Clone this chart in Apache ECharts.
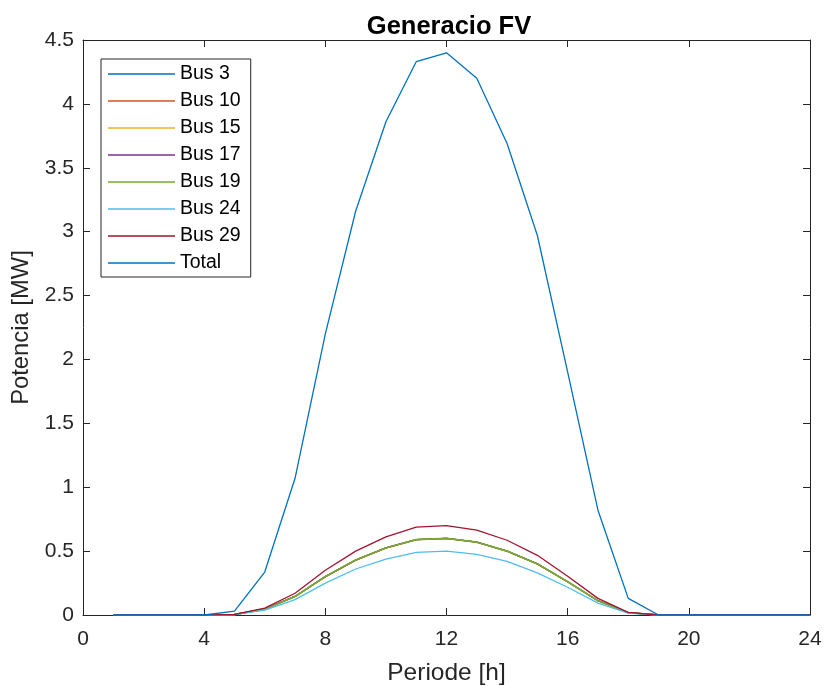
<!DOCTYPE html>
<html>
<head>
<meta charset="utf-8">
<script src="https://cdn.jsdelivr.net/npm/echarts@6/dist/echarts.min.js"></script>
<style>html,body{margin:0;padding:0;background:#fff;}#c{width:825px;height:686px;}</style>
</head>
<body>
<div id="c"></div>
<script>
const hours = [1,2,3,4,5,6,7,8,9,10,11,12,13,14,15,16,17,18,19,20,21,22,23,24];
const bus3  = [0,0,0,0,0.004,0.046,0.145,0.30,0.43,0.525,0.59,0.60,0.57,0.50,0.40,0.26,0.112,0.018,0,0,0,0,0,0];
const bus10 = [0,0,0,0,0.004,0.046,0.145,0.30,0.43,0.525,0.59,0.60,0.57,0.50,0.40,0.26,0.112,0.018,0,0,0,0,0,0];
const bus15 = [0,0,0,0,0.004,0.046,0.145,0.30,0.43,0.525,0.59,0.60,0.57,0.50,0.40,0.26,0.112,0.018,0,0,0,0,0,0];
const bus17 = [0,0,0,0,0.004,0.046,0.145,0.30,0.43,0.525,0.59,0.60,0.57,0.50,0.40,0.26,0.112,0.018,0,0,0,0,0,0];
const bus19 = [0,0,0,0,0.004,0.046,0.145,0.30,0.43,0.525,0.59,0.60,0.57,0.50,0.40,0.26,0.112,0.018,0,0,0,0,0,0];
const bus24 = [0,0,0,0,0.003,0.038,0.12,0.25,0.36,0.437,0.49,0.50,0.475,0.42,0.33,0.217,0.093,0.015,0,0,0,0,0,0];
const bus29 = [0,0,0,0,0.005,0.054,0.17,0.35,0.50,0.612,0.688,0.70,0.665,0.585,0.467,0.303,0.13,0.021,0,0,0,0,0,0];
const total = [0,0,0,0,0.03,0.336,1.07,2.2,3.16,3.86,4.33,4.40,4.20,3.69,2.97,1.90,0.82,0.13,0,0,0,0,0,0];
const names = ['Bus 3','Bus 10','Bus 15','Bus 17','Bus 19','Bus 24','Bus 29','Total'];
const values = [bus3,bus10,bus15,bus17,bus19,bus24,bus29,total];
const colors = ['#0072BD','#D95319','#EDB120','#7E2F8E','#77AC30','#4DBEEE','#A2142F','#0072BD'];

const font = 'Liberation Sans, Arial, Helvetica, sans-serif';
const axisCol = '#262626';
const chart = echarts.init(document.getElementById('c'), null, {renderer:'canvas'});
const series = names.map((n,i)=>({
  name:n, type:'line', xAxisIndex:0, yAxisIndex:0,
  data: hours.map((h,j)=>[h, values[i][j]]),
  showSymbol:false, symbol:'none', silent:true,
  lineStyle:{color:colors[i], width: i===4 ? 1.6 : 1.3},
  itemStyle:{color:colors[i]},
  z: 2+i
}));
function ax(extra){
  return Object.assign({
    axisLine:{show:true, onZero:false, lineStyle:{color:axisCol, width:1}},
    axisTick:{show:true, inside:true, length:7, lineStyle:{color:axisCol}},
    splitLine:{show:false}
  }, extra);
}
chart.setOption({
  animation:false,
  title:{text:'Generacio FV', left:444, top:9, textAlign:'center',
    textStyle:{fontFamily:font, fontSize:25.5, fontWeight:'bold', color:'#000'}},
  grid:{left:83, right:15, top:40, bottom:71, show:false, outerBoundsMode:'none', containLabel:false},
  legend:{
    orient:'vertical', left:101, top:59, data:names,
    icon:'rect', itemWidth:67, itemHeight:1.4, itemGap:7,
    padding:[5,10,4,7],
    borderColor:'#262626', borderWidth:1, backgroundColor:'#fff',
    textStyle:{fontFamily:font, fontSize:19.5, color:'#000', lineHeight:19.7}
  },
  xAxis:[
    ax({type:'value', min:0, max:24, interval:4, position:'bottom',
     name:'Periode [h]', nameLocation:'middle', nameGap:46,
     nameTextStyle:{fontFamily:font, fontSize:24.5, color:'#262626'},
     axisLabel:{fontFamily:font, fontSize:21, color:'#262626', margin:14}}),
    ax({type:'value', min:0, max:24, interval:4, position:'top',
     axisLabel:{show:false}})
  ],
  yAxis:[
    ax({type:'value', min:0, max:4.5, interval:0.5, position:'left',
     name:'Potencia [MW]', nameLocation:'middle', nameGap:48, nameRotate:90,
     nameTextStyle:{fontFamily:font, fontSize:23.8, color:'#262626'},
     axisLabel:{fontFamily:font, fontSize:21, color:'#262626', margin:9}}),
    ax({type:'value', min:0, max:4.5, interval:0.5, position:'right',
     axisLabel:{show:false}})
  ],
  series: series
});
</script>
</body>
</html>
